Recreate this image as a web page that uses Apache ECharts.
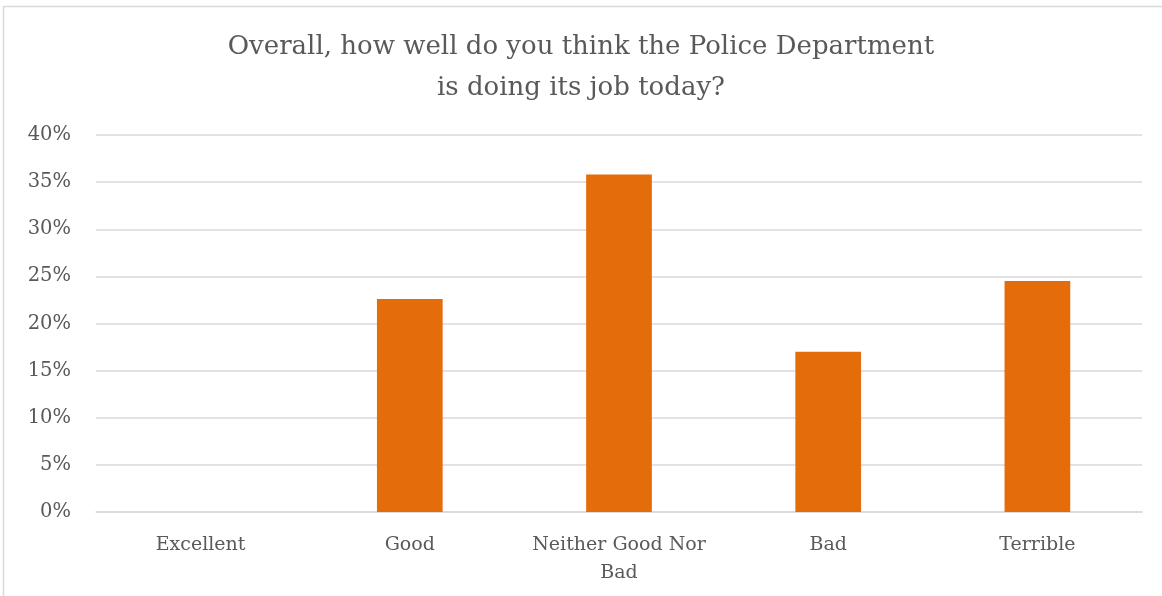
<!DOCTYPE html>
<html><head><meta charset="utf-8">
<script src="https://cdn.jsdelivr.net/npm/echarts@6/dist/echarts.min.js"></script>
<style>html,body{margin:0;padding:0;background:#fff}#c{width:1162px;height:596px}</style>
</head><body><div id="c"></div>
<script>
const categories = ['Excellent', 'Good', 'Neither Good Nor\nBad', 'Bad', 'Terrible'];
const values = [0, 22.6, 35.8, 17.0, 24.5];
const yTicks = [0, 5, 10, 15, 20, 25, 30, 35, 40];
const titleText = 'Overall, how well do you think the Police Department\nis doing its job today?';

const font = '"DejaVu Serif", "Liberation Serif", serif';
const chart = echarts.init(document.getElementById('c'));
chart.setOption({
  animation: false,
  textStyle: { fontFamily: font },
  graphic: [{
    type: 'rect', shape: { x: 3.5, y: 6.5, width: 1200, height: 700 },
    style: { fill: 'none', stroke: '#D9D9D9', lineWidth: 1.5 }, silent: true, z: -1
  }],
  title: {
    text: titleText, left: 'center', top: 22,
    textStyle: { fontFamily: font, fontSize: 26, fontWeight: 'normal', color: '#595959', lineHeight: 41 }
  },
  grid: { left: 96, right: 20, top: 135, bottom: 84, containLabel: false },
  xAxis: {
    type: 'category', data: categories,
    axisLine: { show: true, lineStyle: { color: '#D9D9D9', width: 1.5 } },
    axisTick: { show: false },
    axisLabel: { interval: 0, color: '#595959', fontSize: 19, fontFamily: font, margin: 19, lineHeight: 28 }
  },
  yAxis: {
    type: 'value', min: yTicks[0], max: yTicks[yTicks.length - 1], interval: 5,
    axisLine: { show: false }, axisTick: { show: false },
    splitLine: { lineStyle: { color: '#D9D9D9', width: 1.5 } },
    axisLabel: { color: '#595959', fontSize: 19.5, fontFamily: font, margin: 25, formatter: v => v + '%' }
  },
  series: [{
    type: 'bar', data: values, barWidth: '31.4%',
    itemStyle: { color: '#E46C0A' }
  }]
});
</script></body></html>
